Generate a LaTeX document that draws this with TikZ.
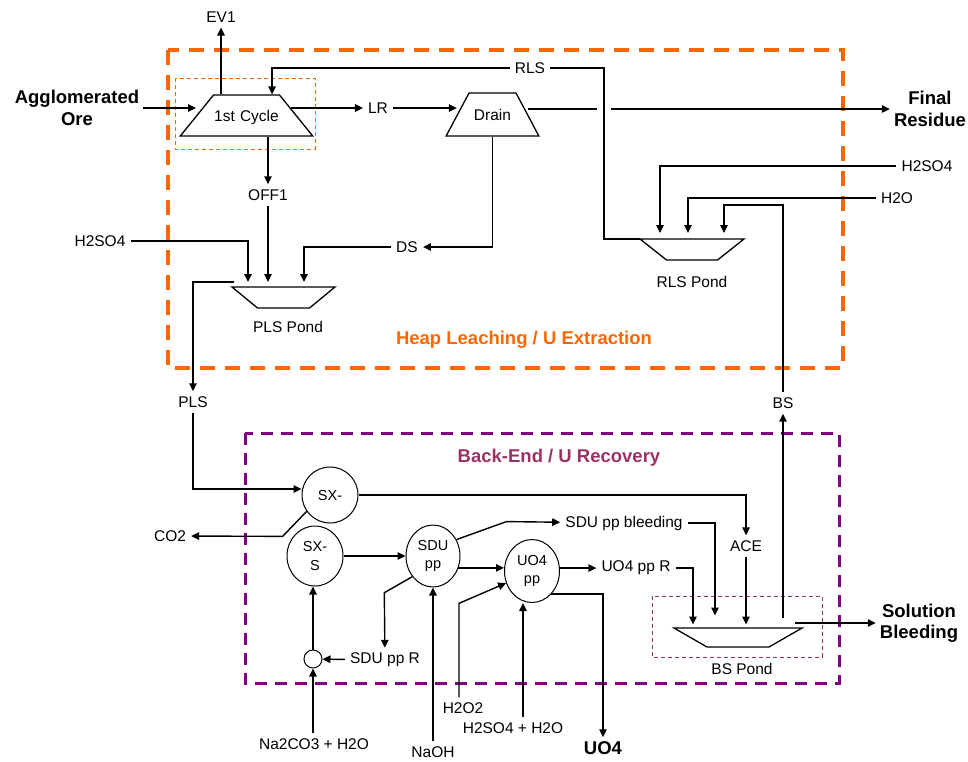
\documentclass[tikz,border=0pt]{standalone}
\usepackage{fontspec}
\setmainfont{Liberation Sans}
\usetikzlibrary{arrows.meta,shapes.geometric,calc}

\definecolor{heaporange}{RGB}{255,102,0}
\definecolor{backpurple}{RGB}{128,0,128}
\definecolor{backplum}{RGB}{153,51,102}

\begin{document}
\begin{tikzpicture}[
    x=1pt, y=-1pt,
    txt/.style={font=\fontsize{15.5}{18}\selectfont, inner sep=5pt},
    hdr/.style={font=\fontsize{18.5}{21.5}\selectfont\bfseries, align=center, inner sep=4pt},
    tank/.style={draw, line width=1.3pt, trapezium, inner xsep=0pt, text height=11.5pt, text depth=0pt, align=center, font=\fontsize{15.5}{18}\selectfont},
    pond/.style={draw, line width=1.3pt, trapezium, shape border rotate=180},
    cell/.style={draw, line width=1pt, ellipse, inner sep=0pt, align=center, font=\fontsize{14.5}{18.5}\selectfont},
    pipe/.style={line width=1.4pt},
    wire/.style={pipe, -{Triangle[length=8pt,width=7.5pt]}},
    zone/.style={line width=3.5pt, dash pattern=on 15pt off 10pt},
    subzone/.style={line width=1pt, dash pattern=on 4pt off 3pt}
  ]
  \useasboundingbox (0,0) rectangle (968,761);

  \draw[zone, heaporange] (168,50) rectangle (843,368);
  \draw[zone, backpurple, line width=3pt, dash pattern=on 12pt off 8pt] (245,433) rectangle (839,683);
  \draw[subzone, heaporange] (175,78) rectangle (315,149);
  \draw[subzone, backplum] (652,596) rectangle (822,657);
  \node[hdr, text=heaporange] (heap) at (524,340) {Heap Leaching / U Extraction};
  \node[hdr, text=backplum] (back) at (559,458) {Back-End / U Recovery};

  % heap leaching
  \node[tank, text width=66pt, inner ysep=14.75pt, trapezium left angle=51, trapezium right angle=51] (cyc) at (246.5,115.5) {1st Cycle};
  \node[tank, text width=47pt, inner ysep=15.75pt, trapezium left angle=62, trapezium right angle=62] (drn) at (492.5,114.5) {Drain};
  \node[pond, inner xsep=26pt, inner ysep=10.5pt, trapezium left angle=39.5, trapezium right angle=39.5] (plsp) at (283.5,297.5) {};
  \node[pond, inner xsep=25.5pt, inner ysep=10.5pt, trapezium left angle=38.4, trapezium right angle=38.4] (rlsp) at (692,249.5) {};
  \node[txt] (ev1) at (221,17) {EV1};
  \node[hdr] (ore) at (77,108) {Agglomerated\\Ore};
  \node[txt] (lr) at (378,108) {LR};
  \node[txt] (rls) at (530,68) {RLS};
  \node[hdr] (fres) at (930,109) {Final\\Residue};
  \node[txt] (off1) at (268,195) {OFF1};
  \node[txt] (acidl) at (100,241) {H2SO4};
  \node[txt] (ds) at (407,247) {DS};
  \node[txt] (plsl) at (288,327) {PLS Pond};
  \node[txt] (acidr) at (927,166) {H2SO4};
  \node[txt] (water) at (897,198) {H2O};
  \node[txt] (rlsl) at (692,282) {RLS Pond};
  \node[txt] (pls) at (193,402) {PLS};
  \node[txt] (bs) at (783,403) {BS};

  \coordinate (plsp-in) at ([shift={(0,-15.5)}]plsp.center);
  \coordinate (plsp-out) at ([shift={(-50,-15.5)}]plsp.center);
  \coordinate (rlsp-in) at ([shift={(0,-16.5)}]rlsp.center);
  \coordinate (rlsp-tl) at ([shift={(-52,-10.5)}]rlsp.center);

  \draw[wire] (cyc.north -| ev1) -- (ev1);
  \draw[wire] (ore) -- (ore -| cyc.west);
  \draw[wire] (rls) -| ([xshift=25.5pt]cyc.north);
  \draw[wire] ([xshift=-6pt]cyc.east |- lr) -- (lr);
  \draw[wire] (lr) -- (lr -| drn.west);
  \draw[wire] (drn.east |- fres) -- (fres);
  \draw[pipe, preaction={draw=white, line width=14pt}] (rlsp-tl) -- ++(-36,0) |- (rls);
  \draw[wire] (drn.south) |- (ds);
  \draw[wire] (ds) -| ([xshift=20.5pt]plsp-in);
  \draw[wire] (cyc.south -| off1) -- (off1);
  \draw[wire] (off1) -- (off1 |- plsp-in);
  \draw[wire] (acidl) -| ([xshift=-35.5pt]plsp-in);
  \draw[wire] (plsp-out) -| (pls);
  \draw[wire] (acidr) -| ([xshift=-32pt]rlsp-in);
  \draw[wire] (water) -| ([xshift=-4pt]rlsp-in);
  \draw[wire] (bs) |- ([shift={(32,-28)}]rlsp-in) -- ([xshift=32pt]rlsp-in);

  % back-end
  \node[cell, circle, minimum size=56pt] (sxe) at (330,495) {SX-};
  \node[cell, minimum width=56pt, minimum height=60pt] (sxs) at (315,556) {SX-\\S};
  \node[cell, minimum width=54pt, minimum height=62pt] (sdu) at (433,556) {SDU\\pp};
  \node[cell, minimum width=55pt, minimum height=63pt] (uo4pp) at (532,571) {UO4\\pp};
  \node[cell, circle, minimum size=18pt] (mix) at (313,659) {};
  \node[pond, inner xsep=31pt, inner ysep=9.5pt, trapezium left angle=29.9, trapezium right angle=29.9] (bsp) at (738,637.5) {};
  \node[txt] (co2) at (170,536) {CO2};
  \node[txt] (sdubl) at (624,523) {SDU pp bleeding};
  \node[txt] (ace) at (746,546) {ACE};
  \node[txt] (uo4r) at (636,568) {UO4 pp R};
  \node[txt] (sdur) at (385,660) {SDU pp R};
  \node[txt] (soda) at (314,744) {Na2CO3 + H2O};
  \node[txt] (naoh) at (433,752) {NaOH};
  \node[txt] (perox) at (463,708) {H2O2};
  \node[txt] (acidu) at (513,728) {H2SO4 + H2O};
  \node[hdr] (uo4) at (603,748) {UO4};
  \node[txt] (bspl) at (742,669) {BS Pond};
  \node[hdr] (solb) at (919,623) {Solution\\Bleeding};

  \coordinate (bsp-in) at ([shift={(0,-13)}]bsp.center);
  \coordinate (bsp-top) at ([shift={(0,-9.5)}]bsp.center);

  \draw[wire] (pls) |- ([yshift=6pt]sxe.west);
  \draw[wire] (sxe) -| (ace);
  \draw[wire] (ace) -- (ace |- bsp-in);
  \draw[wire] (sxe.215) -- ++(-24,25) -- (co2);
  \draw[wire] (sxs) -- (sdu);
  \draw[wire] (sdu.35) -- ++(50,-18) -- (sdubl);
  \draw[wire] (sdubl) -| ([shift={(-23,-9)}]bsp-in);
  \draw[wire] (sdu.-25) -- (sdu.-25 -| uo4pp.west);
  \draw[wire] (uo4pp.east |- uo4r) -- (uo4r);
  \draw[wire] (uo4r) -| ([xshift=-45pt]bsp-in);
  \draw[wire] (uo4pp.-50) -| (uo4);
  \draw[wire] ([xshift=-4pt]perox.north) -- ++(0,-94) -- (uo4pp.205);
  \draw[wire] ([xshift=10pt]acidu.north) -- ([xshift=10pt]acidu.north |- uo4pp.south);
  \draw[wire] (naoh) -- (naoh |- sdu.south);
  \draw[wire] (sdu.225) -- ++(-28,16) -- (sdur);
  \draw[wire] (sdur) -- (mix);
  \draw[wire] (mix) -- (mix |- sxs.south);
  \draw[wire] (soda.north -| mix) -- (mix);
  \draw[wire] ([yshift=10pt]bs |- bsp-top) -- (bs);
  \draw[wire] ([xshift=57pt]bsp-top |- solb) -- (solb);
\end{tikzpicture}
\end{document}
